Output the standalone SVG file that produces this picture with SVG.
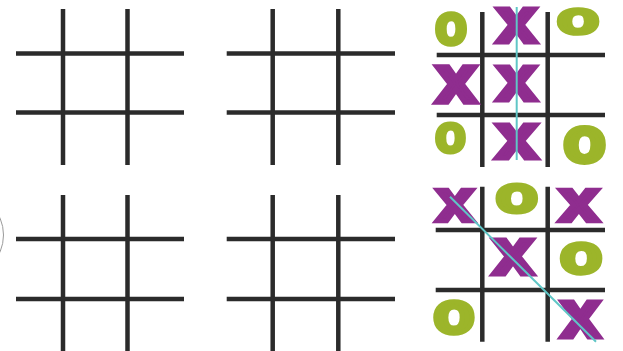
<svg xmlns="http://www.w3.org/2000/svg" width="623" height="351" viewBox="0 0 623 351">
<style>
.g line{stroke:#2b2b2b;stroke-width:4.5;}
.o{fill:#9cb52a;stroke:#9cb52a;stroke-width:5;stroke-linejoin:round;}
.x{fill:#8f2d8f;stroke:#8f2d8f;stroke-width:5;stroke-linejoin:miter;}
.m{font-family:"Liberation Sans",Arial,sans-serif;font-weight:bold;font-size:64px;text-anchor:middle;}
.win{stroke:#5fc6c6;stroke-width:2;fill:none;}
</style>
<rect width="623" height="351" fill="#ffffff"/>
<circle cx="-39.5" cy="235" r="43" fill="none" stroke="#9a9a9a" stroke-width="1"/>
<g id="grid1" class="g">
<line x1="63" y1="9" x2="63" y2="165"/><line x1="127.5" y1="9" x2="127.5" y2="165"/>
<line x1="16" y1="53.5" x2="184" y2="53.5"/><line x1="16" y1="112.5" x2="184" y2="112.5"/>
</g>
<g id="grid2" class="g">
<line x1="272.7" y1="9" x2="272.7" y2="165"/><line x1="338.3" y1="9" x2="338.3" y2="165"/>
<line x1="226.7" y1="53.5" x2="395" y2="53.5"/><line x1="226.7" y1="112.5" x2="395" y2="112.5"/>
</g>
<g id="grid4" class="g">
<line x1="63" y1="195" x2="63" y2="351"/><line x1="127.5" y1="195" x2="127.5" y2="351"/>
<line x1="16" y1="239" x2="184" y2="239"/><line x1="16" y1="299" x2="184" y2="299"/>
</g>
<g id="grid5" class="g">
<line x1="272.7" y1="195" x2="272.7" y2="351"/><line x1="338.3" y1="195" x2="338.3" y2="351"/>
<line x1="226.7" y1="239" x2="395" y2="239"/><line x1="226.7" y1="299" x2="395" y2="299"/>
</g>
<g id="grid3">
<g class="g">
<line x1="482.3" y1="12" x2="482.3" y2="167"/><line x1="547.7" y1="12" x2="547.7" y2="167"/>
<line x1="436.7" y1="55" x2="605" y2="55"/><line x1="436.7" y1="115" x2="605" y2="115"/>
</g>
<g class="m">
<text class="o" transform="translate(451,29) scale(0.82,0.9)" y="16.6">o</text>
<text class="x" transform="translate(516.5,26) scale(1.11,0.97)" y="16.6">x</text>
<text class="o" transform="translate(578,22) scale(1.09,0.72)" y="16.6">o</text>
<text class="x" transform="translate(456,85) scale(1.13,1.05)" y="16.6">x</text>
<text class="x" transform="translate(516.5,83.5) scale(1.11,0.97)" y="16.6">x</text>
<text class="o" transform="translate(450.5,139) scale(0.79,0.8)" y="16.6">o</text>
<text class="x" transform="translate(516.7,142) scale(1.16,0.97)" y="16.6">x</text>
<text class="o" transform="translate(584.5,145) scale(1.09,1.0)" y="16.6">o</text>
</g>
</g>
<g id="grid6">
<g class="g">
<line x1="482.3" y1="186.7" x2="482.3" y2="341.7"/><line x1="547.7" y1="186.7" x2="547.7" y2="341.7"/>
<line x1="435.7" y1="230" x2="605" y2="230"/><line x1="435.7" y1="290" x2="605" y2="290"/>
</g>
<g class="m">
<text class="x" transform="translate(455,206) scale(1.05,0.92)" y="16.6">x</text>
<text class="o" transform="translate(516.7,199) scale(1.09,0.8)" y="16.6">o</text>
<text class="x" transform="translate(579,206) scale(1.11,0.92)" y="16.6">x</text>
<text class="x" transform="translate(513,257) scale(1.13,1.0)" y="16.6">x</text>
<text class="o" transform="translate(581,259) scale(1.09,0.87)" y="16.6">o</text>
<text class="o" transform="translate(454,318) scale(1.06,0.92)" y="16.6">o</text>
<text class="x" transform="translate(580.5,320) scale(1.08,1.05)" y="16.6">x</text>
</g>
</g>
<g id="connectors">
<line class="win" x1="516.7" y1="7" x2="516.7" y2="160"/>
<line class="win" x1="450" y1="196.7" x2="596" y2="341.7"/>
</g>
</svg>
